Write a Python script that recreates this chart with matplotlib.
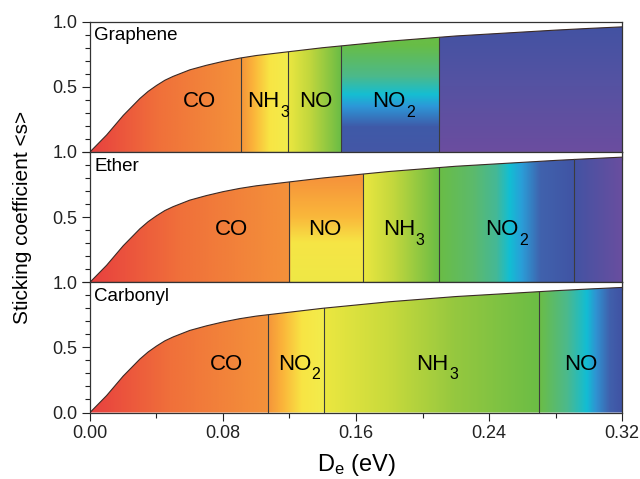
import numpy as np
import matplotlib
matplotlib.use('Agg')
import matplotlib.pyplot as plt
from matplotlib.colors import LinearSegmentedColormap
from matplotlib.patches import Polygon
from matplotlib.ticker import MultipleLocator

plt.rcParams['font.family'] = ['Liberation Sans', 'DejaVu Sans']
plt.rcParams['mathtext.fontset'] = 'custom'
plt.rcParams['mathtext.rm'] = 'Liberation Sans'
plt.rcParams['mathtext.it'] = 'Liberation Sans:italic'

# sticking coefficient curve (same for all surfaces)
De = [0, 0.01, 0.02, 0.025, 0.03, 0.035, 0.04, 0.045, 0.05, 0.055, 0.06, 0.07, 0.08,
      0.09, 0.10, 0.12, 0.14, 0.16, 0.18, 0.20, 0.22, 0.24, 0.26, 0.28, 0.30, 0.32]
s = [0, 0.13, 0.28, 0.345, 0.41, 0.465, 0.51, 0.55, 0.58, 0.605, 0.63, 0.665, 0.695,
     0.72, 0.74, 0.77, 0.80, 0.825, 0.85, 0.87, 0.89, 0.905, 0.92, 0.935, 0.948, 0.96]

surfaces = ['Graphene', 'Ether', 'Carbonyl']

# region boundaries (eV) for each surface
bounds_graphene = [0.0, 0.091, 0.119, 0.151, 0.210, 0.32]
bounds_ether = [0.0, 0.120, 0.164, 0.210, 0.291, 0.32]
bounds_carbonyl = [0.0, 0.107, 0.141, 0.270, 0.32]

labels_graphene = ['CO', 'NH3', 'NO', 'NO2']
labels_ether = ['CO', 'NO', 'NH3', 'NO2']
labels_carbonyl = ['CO', 'NO2', 'NH3', 'NO']

# colour fills per region: (direction, colour stops)
red_orange = [(0, '#e8403f'), (0.45, '#f0703a'), (1, '#f4923a')]
orange_yellow = [(0, '#f5953a'), (0.25, '#fbb43a'), (0.6, '#f8e544'), (1, '#f2ec4c')]
yellow_green = [(0, '#ebe740'), (0.4, '#c2d73d'), (1, '#69bc45')]
green_blue = [(0, '#6abd46'), (0.25, '#5cba6c'), (0.42, '#45b896'), (0.52, '#12bed3'),
              (0.61, '#2a9ed8'), (0.75, '#4062ad'), (1, '#4154a4')]
blue_purple = [(0, '#4353a3'), (1, '#6a4e9f')]

fills_graphene = [('h', red_orange), ('h', orange_yellow), ('h', yellow_green),
                  ('v', [(0, '#4457a6'), (0.19, '#3f5aa8'), (0.35, '#2c98d8'), (0.44, '#15bed2'),
                         (0.58, '#4cb98a'), (0.82, '#68bd46'), (1, '#68bd46')]),
                  ('v', [(0, '#6b4d9f'), (0.5, '#5652a2'), (1, '#4153a3')])]
fills_ether = [('h', red_orange),
               ('v', [(0, '#efe846'), (0.3, '#f6e545'), (0.5, '#fab73b'), (0.78, '#f6953a'), (1, '#f6953a')]),
               ('h', yellow_green), ('h', green_blue), ('h', blue_purple)]
fills_carbonyl = [('h', red_orange), ('h', orange_yellow),
                  ('h', [(0, '#ebe740'), (0.3, '#c8da3c'), (0.6, '#96c83f'), (1, '#6bbd45')]),
                  ('h', [(0, '#6bbd46'), (0.33, '#4cb98c'), (0.57, '#12bdd4'), (0.68, '#2f93d2'),
                         (0.85, '#4060ac'), (1, '#4052a3')])]

# label positions (centre of the main letters, baseline height)
label_x = [[0.066, 0.1044, 0.136, 0.180],
           [0.085, 0.141, 0.186, 0.248],
           [0.082, 0.123, 0.206, 0.295]]
label_y = [0.345, 0.36, 0.33]

panels = [(bounds_graphene, labels_graphene, fills_graphene),
          (bounds_ether, labels_ether, fills_ether),
          (bounds_carbonyl, labels_carbonyl, fills_carbonyl)]


def chem_label(ax, x, y, name, fs=16):
    base = name.rstrip('0123456789')
    sub = name[len(base):]
    t = ax.text(x, y, base, fontsize=fs, ha='center', va='baseline', zorder=4)
    if sub:
        ax.annotate(sub, xy=(1, 0), xycoords=t, xytext=(0.3, -5.5),
                    textcoords='offset points', fontsize=fs * 0.72,
                    ha='left', va='bottom', zorder=4)


fig = plt.figure(figsize=(6.4, 4.79), dpi=100)
top, bottom = 0.9548, 0.1388
h = (top - bottom) / 3
left, width = 0.1406, 0.8313

nx, ny = 700, 300
xs = np.linspace(0, 0.32, nx)
ys = np.linspace(0, 1, ny)

for i, (bounds, labels, fills) in enumerate(panels):
    ax = fig.add_axes([left, top - (i + 1) * h, width, h])
    img = np.ones((ny, nx, 3))
    for j, (d, stops) in enumerate(fills):
        x0, x1 = bounds[j], bounds[j + 1]
        cmap = LinearSegmentedColormap.from_list('c', stops)
        m = (xs >= x0) & (xs <= x1)
        if d == 'h':
            t = (xs[m] - x0) / (x1 - x0)
            img[:, m, :] = cmap(t)[None, :, :3]
        else:
            img[:, m, :] = cmap(ys)[:, None, :3]
    im = ax.imshow(img, extent=[0, 0.32, 0, 1], origin='lower', aspect='auto',
                   interpolation='bilinear', zorder=1)
    verts = [(0, 0)] + list(zip(De, s)) + [(0.32, 0)]
    patch = Polygon(verts, closed=True, transform=ax.transData,
                    facecolor='none', edgecolor='none')
    ax.add_patch(patch)
    im.set_clip_path(patch)
    ax.plot(De, s, color='#3a2a26', lw=0.8, zorder=3)
    for b in bounds[1:-1]:
        ax.plot([b, b], [0, np.interp(b, De, s)], color='#3c3c3c', lw=0.8, zorder=3)
    for lx, lab in zip(label_x[i], labels):
        chem_label(ax, lx, label_y[i], lab)
    ax.text(0.008, 0.89, surfaces[i], transform=ax.transAxes, fontsize=13.5,
            ha='left', va='center')

    ax.set_xlim(0, 0.32)
    ax.set_ylim(0, 1)
    ax.yaxis.set_major_locator(MultipleLocator(0.5))
    ax.yaxis.set_minor_locator(MultipleLocator(0.1))
    ax.xaxis.set_major_locator(MultipleLocator(0.08))
    ax.xaxis.set_minor_locator(MultipleLocator(0.04))
    ax.tick_params(which='major', direction='out', length=6, width=0.8,
                   labelsize=13, colors='#222222', pad=3)
    ax.tick_params(which='minor', direction='out', length=3.5, width=0.8,
                   colors='#222222')
    for sp in ax.spines.values():
        sp.set_linewidth(0.9)
        sp.set_color('#333333')
    ax.set_yticks([0, 0.5, 1.0])
    if i < 2:
        ax.set_yticklabels(['', '0.5', '1.0'])
        ax.tick_params(axis='x', labelbottom=False)
    else:
        ax.set_yticklabels(['0.0', '0.5', '1.0'])
        ax.set_xticks([0, 0.08, 0.16, 0.24, 0.32])
        ax.set_xticklabels(['0.00', '0.08', '0.16', '0.24', '0.32'])
        ax.set_xlabel(r'D$_\mathregular{e}$ (eV)', fontsize=17, labelpad=7)

fig.text(0.035, (top + bottom) / 2, 'Sticking coefficient <s>', rotation=90,
         fontsize=15, ha='center', va='center')

fig.savefig('out.png', dpi=100)
